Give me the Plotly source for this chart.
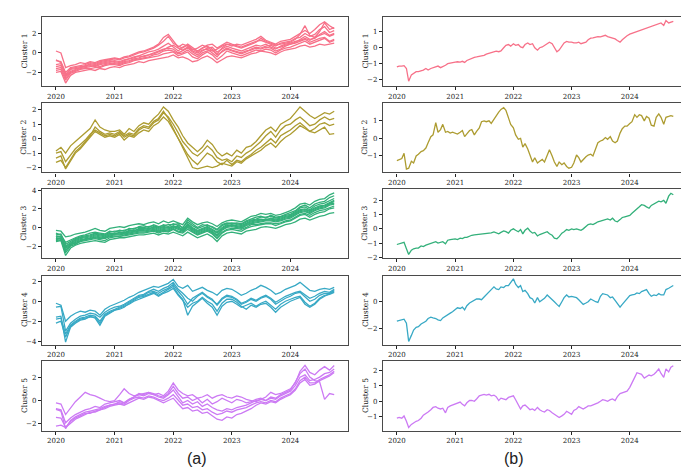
import plotly.graph_objects as go
import pandas as pd

# ---------------- data ----------------
cluster_names = ["Cluster 1", "Cluster 2", "Cluster 3", "Cluster 4", "Cluster 5"]
colors = ["#f77189", "#ad9c31", "#33b07a", "#38a9c5", "#cc7af4"]
year_ticks = ["2020", "2021", "2022", "2023", "2024"]

months = pd.date_range("2020-01-01", "2024-09-01", freq="MS")
dates_month = list(months.strftime("%Y-%m-%d")) + ["2024-09-30"]
dates_semi = []
for m in months:
    dates_semi.append(m.strftime("%Y-%m-%d"))
    dates_semi.append((m + pd.Timedelta(days=14)).strftime("%Y-%m-%d"))
dates_semi.append("2024-09-30")

# (a) individual members of each cluster, monthly readings
c1_members = [
    [0.2, 0.0, -1.5, -1.3, -1.2, -1.0, -1.1, -0.9, -1.0, -0.8, -0.7, -0.6,
     -0.5, -0.6, -0.4, -0.3, -0.1, 0.1, 0.2, 0.4, 0.6, 0.9, 1.6, 1.9,
     1.2, 0.6, 0.9, 0.7, 0.3, 0.5, 0.8, 0.6, 0.2, 0.4, 0.7, 0.9,
     0.8, 0.6, 0.5, 0.7, 0.9, 1.1, 1.5, 1.2, 1.0, 0.8, 0.9, 1.0,
     1.1, 1.4, 1.9, 2.8, 1.8, 1.6, 2.2, 3.1, 2.4, 2.6],
    [-2.0, -1.9, -3.1, -2.3, -2.0, -1.9, -1.8, -1.7, -1.8, -1.6, -1.7, -1.5,
     -1.4, -1.5, -1.3, -1.2, -1.1, -0.9, -1.0, -0.8, -0.7, -0.6, -0.5, -0.4,
     -0.2, -0.5, -0.4, -0.6, -0.9, -0.8, -0.5, -0.3, -0.6, -1.0, -0.7, -0.4,
     -0.3, -0.4, -0.5, -0.3, -0.1, 0.0, 0.2, 0.1, 0.0, -0.2, 0.1, 0.3,
     0.4, 0.5, 0.7, 0.8, 0.6, 0.7, 0.9, 0.8, 0.9, 1.0],
    [-1.6, -1.5, -2.6, -2.0, -1.8, -1.6, -1.5, -1.4, -1.3, -1.4, -1.2, -1.1,
     -1.0, -1.1, -0.9, -0.8, -0.6, -0.5, -0.3, -0.2, 0.0, 0.2, 0.4, 0.5,
     0.4, 0.0, 0.2, 0.5, 0.1, -0.2, 0.2, 0.5, 0.6, 0.1, 0.4, 0.7,
     0.5, 0.3, 0.2, 0.4, 0.6, 0.8, 0.7, 0.9, 0.6, 0.4, 0.7, 0.9,
     1.0, 1.2, 1.3, 1.5, 1.3, 1.6, 1.8, 2.0, 1.7, 1.9],
    [-1.4, -1.3, -2.3, -1.7, -1.6, -1.5, -1.3, -1.2, -1.3, -1.1, -1.0, -0.9,
     -0.8, -0.9, -0.7, -0.6, -0.5, -0.3, -0.4, -0.2, -0.1, 0.1, 0.3, 0.6,
     0.8, 0.5, 0.3, 0.6, 0.2, 0.0, 0.3, 0.4, 0.0, -0.4, 0.2, 0.5,
     0.3, 0.1, 0.0, 0.2, 0.3, 0.5, 0.4, 0.6, 0.5, 0.2, 0.4, 0.7,
     0.9, 1.0, 1.2, 1.4, 1.1, 1.3, 1.5, 1.6, 1.2, 1.4],
    [-0.8, -0.9, -2.0, -1.5, -1.4, -1.3, -1.2, -1.0, -1.1, -0.9, -0.8, -0.7,
     -0.6, -0.7, -0.5, -0.4, -0.2, 0.0, 0.1, 0.3, 0.5, 0.8, 1.2, 1.7,
     1.0, 0.7, 0.5, 0.9, 0.6, 0.2, 0.5, 0.8, 0.9, 0.5, 0.8, 1.1,
     0.9, 0.7, 0.6, 0.8, 1.0, 1.2, 1.3, 1.1, 0.9, 0.7, 1.0, 1.1,
     1.2, 1.5, 1.6, 2.0, 1.7, 1.9, 2.4, 2.7, 2.1, 2.3],
    [-1.8, -1.7, -2.8, -2.1, -1.9, -1.7, -1.6, -1.6, -1.5, -1.5, -1.3, -1.2,
     -1.2, -1.3, -1.1, -1.0, -0.8, -0.7, -0.6, -0.5, -0.4, -0.3, -0.1, 0.0,
     0.1, -0.3, -0.1, 0.1, -0.4, -0.6, -0.2, 0.1, -0.2, -0.7, -0.3, 0.2,
     0.0, -0.2, -0.3, -0.1, 0.1, 0.3, 0.2, 0.4, 0.3, 0.0, 0.3, 0.5,
     0.6, 0.8, 1.0, 1.2, 0.9, 1.1, 1.3, 1.5, 1.1, 1.3],
    [-0.7, -1.0, -2.2, -1.6, -1.5, -1.4, -1.4, -1.1, -1.2, -1.0, -0.9, -0.8,
     -0.9, -1.0, -0.8, -0.6, -0.4, -0.3, -0.1, 0.1, 0.2, 0.4, 0.7, 1.0,
     0.6, 0.2, 0.6, 0.8, 0.4, 0.1, 0.5, 0.7, 0.4, -0.1, 0.5, 0.9,
     0.7, 0.9, 0.8, 1.0, 1.2, 1.4, 1.7, 1.3, 1.1, 0.9, 1.2, 1.3,
     1.4, 1.7, 2.0, 2.3, 2.0, 2.4, 2.9, 3.2, 2.8, 2.5],
    [-1.2, -1.1, -2.4, -1.9, -1.7, -1.5, -1.4, -1.3, -1.4, -1.2, -1.1, -1.0,
     -1.1, -1.2, -1.0, -0.9, -0.7, -0.6, -0.5, -0.4, -0.2, -0.1, 0.2, 0.3,
     0.2, -0.1, 0.0, 0.3, -0.1, -0.4, 0.0, 0.2, 0.3, -0.2, 0.1, 0.4,
     0.2, 0.0, -0.1, 0.1, 0.4, 0.6, 0.5, 0.7, 0.8, 0.5, 0.6, 0.8,
     0.9, 1.1, 1.4, 1.7, 1.4, 1.5, 1.9, 2.2, 1.8, 2.0],
]

c2_members = [
    [-0.85, -0.6, -1.0, -0.5, -0.2, 0.1, 0.4, 0.7, 1.3, 0.8, 0.6, 0.5,
     0.5, 0.6, 0.3, 0.7, 0.5, 0.9, 1.1, 1.0, 1.4, 1.7, 2.2, 1.9,
     1.3, 0.8, 0.2, -0.3, -0.6, -0.9, -0.6, -0.1, -0.4, -0.9, -1.2, -1.0,
     -1.2, -0.8, -1.0, -0.6, -0.5, -0.2, 0.2, 0.6, 0.8, 0.5, 1.0, 1.2,
     1.4, 1.8, 2.2, 1.9, 1.6, 1.4, 1.6, 1.8, 1.7, 1.9],
    [-1.0, -0.9, -1.6, -1.1, -0.7, -0.4, -0.1, 0.3, 0.6, 0.4, 0.2, 0.3,
     0.2, 0.4, 0.1, 0.3, 0.2, 0.6, 0.8, 0.7, 1.1, 1.3, 1.8, 1.5,
     1.0, 0.4, -0.2, -0.6, -1.0, -1.2, -0.9, -0.5, -0.8, -1.3, -1.5, -1.4,
     -1.6, -1.2, -1.3, -1.0, -0.8, -0.5, -0.2, 0.2, 0.5, 0.1, 0.6, 0.9,
     1.0, 1.3, 1.5, 1.2, 0.9, 1.0, 1.3, 1.5, 1.3, 1.4],
    [-1.35, -1.2, -2.1, -1.5, -1.0, -0.7, -0.3, 0.1, 0.5, 0.3, 0.1, 0.2,
     0.1, 0.3, -0.1, 0.2, 0.1, 0.4, 0.6, 0.5, 0.9, 1.1, 1.5, 1.2,
     0.6, 0.1, -0.5, -1.1, -1.5, -1.8, -1.4, -1.0, -1.2, -1.6, -1.8, -1.5,
     -1.8, -1.5, -1.6, -1.3, -1.1, -0.8, -0.6, -0.3, 0.0, -0.3, 0.2, 0.4,
     0.6, 0.9, 1.1, 0.8, 0.5, 0.7, 1.0, 1.1, 0.9, 1.0],
    [-1.65, -1.5, -2.0, -1.4, -0.9, -0.6, -0.2, 0.2, 0.8, 0.5, 0.3, 0.4,
     0.3, 0.5, 0.2, 0.4, 0.3, 0.7, 0.9, 0.8, 1.2, 1.4, 1.9, 1.4,
     0.7, 0.0, -0.6, -1.3, -2.0, -2.1, -2.0, -1.9, -2.0, -1.9, -1.7, -1.8,
     -1.9, -1.6, -1.7, -1.4, -1.2, -1.0, -0.8, -0.5, -0.3, -0.6, -0.2, 0.1,
     0.3, 0.6, 0.9, 0.7, 0.5, 0.4, 0.6, 0.8, 0.3, 0.35],
]

c3_members = [
    [-0.3, -0.4, -1.0, -0.9, -0.7, -0.6, -0.5, -0.3, -0.1, -0.3, -0.4, -0.1,
     0.0, 0.1, 0.0, 0.2, 0.3, 0.4, 0.3, 0.5, 0.6, 0.4, 0.7, 0.5,
     0.7, 0.5, 0.3, 1.0, 0.6, 0.3, 0.5, 0.6, 0.4, 0.1, 0.5, 0.7,
     0.8, 0.7, 0.6, 0.9, 1.2, 1.3, 1.5, 1.4, 1.5, 1.3, 1.4, 1.6,
     1.8, 2.1, 2.5, 2.6, 2.4, 2.8, 3.0, 3.1, 3.5, 3.7],
    [-1.5, -1.4, -3.0, -2.2, -1.9, -1.7, -1.6, -1.5, -1.4, -1.5, -1.6, -1.3,
     -1.2, -1.1, -1.1, -1.0, -0.9, -0.8, -0.8, -0.7, -0.6, -0.8, -0.6, -0.7,
     -0.5, -0.7, -0.9, -0.5, -0.8, -1.1, -0.9, -0.7, -1.0, -1.5, -0.9, -0.6,
     -0.5, -0.6, -0.7, -0.4, -0.3, -0.2, 0.0, 0.1, 0.0, -0.1, 0.1, 0.3,
     0.4, 0.6, 0.9, 1.0, 0.8, 1.0, 1.2, 1.3, 1.5, 1.6],
    [-1.2, -1.1, -2.4, -1.9, -1.6, -1.4, -1.3, -1.2, -1.0, -1.1, -1.2, -0.9,
     -0.8, -0.8, -0.7, -0.6, -0.5, -0.4, -0.4, -0.3, -0.2, -0.4, -0.2, -0.3,
     0.0, -0.2, -0.4, 0.1, -0.3, -0.6, -0.4, -0.2, -0.5, -0.9, -0.3, 0.0,
     0.1, 0.0, -0.1, 0.2, 0.4, 0.5, 0.6, 0.7, 0.7, 0.6, 0.7, 0.9,
     1.0, 1.3, 1.6, 1.7, 1.5, 1.8, 2.0, 2.1, 2.4, 2.5],
    [-0.8, -0.7, -1.8, -1.5, -1.2, -1.0, -0.9, -0.8, -0.6, -0.7, -0.8, -0.5,
     -0.4, -0.4, -0.3, -0.2, -0.1, 0.0, 0.0, 0.1, 0.2, 0.0, 0.3, 0.1,
     0.4, 0.2, 0.0, 0.6, 0.2, -0.1, 0.1, 0.3, 0.0, -0.3, 0.2, 0.4,
     0.5, 0.4, 0.3, 0.6, 0.8, 0.9, 1.1, 1.1, 1.2, 1.0, 1.1, 1.3,
     1.4, 1.7, 2.1, 2.2, 1.9, 2.3, 2.5, 2.6, 2.9, 3.1],
    [-1.4, -1.3, -2.7, -2.0, -1.8, -1.5, -1.4, -1.3, -1.2, -1.3, -1.4, -1.1,
     -1.0, -0.9, -0.9, -0.8, -0.7, -0.6, -0.6, -0.5, -0.4, -0.6, -0.4, -0.5,
     -0.2, -0.5, -0.6, -0.2, -0.5, -0.8, -0.6, -0.4, -0.7, -1.2, -0.6, -0.3,
     -0.2, -0.3, -0.4, -0.1, 0.1, 0.2, 0.3, 0.4, 0.4, 0.2, 0.4, 0.6,
     0.7, 1.0, 1.3, 1.4, 1.1, 1.4, 1.6, 1.7, 2.0, 2.1],
    [-1.0, -0.9, -2.1, -1.7, -1.4, -1.2, -1.1, -1.0, -0.8, -0.9, -1.0, -0.7,
     -0.6, -0.6, -0.5, -0.4, -0.3, -0.2, -0.2, -0.1, 0.0, -0.2, 0.0, -0.1,
     0.2, 0.0, -0.2, 0.3, -0.1, -0.4, -0.2, 0.0, -0.3, -0.6, -0.1, 0.2,
     0.3, 0.2, 0.1, 0.4, 0.6, 0.7, 0.8, 0.9, 0.9, 0.8, 0.9, 1.1,
     1.2, 1.5, 1.8, 1.9, 1.7, 2.0, 2.2, 2.3, 2.6, 2.8],
    [-0.6, -0.8, -1.6, -1.3, -1.1, -0.9, -0.8, -0.6, -0.5, -0.6, -0.7, -0.4,
     -0.5, -0.3, -0.4, -0.1, -0.2, 0.1, 0.2, 0.0, 0.3, 0.1, 0.2, 0.3,
     0.3, 0.4, -0.1, 0.8, 0.4, 0.0, 0.3, 0.2, 0.1, -0.2, 0.3, 0.5,
     0.4, 0.5, 0.4, 0.7, 0.9, 1.1, 1.2, 1.0, 1.3, 1.1, 1.2, 1.4,
     1.6, 1.8, 2.2, 2.4, 2.1, 2.5, 2.7, 2.8, 3.2, 3.4],
    [-1.3, -1.2, -2.5, -1.8, -1.7, -1.5, -1.2, -1.2, -1.1, -1.2, -1.1, -1.0,
     -0.9, -1.0, -0.8, -0.7, -0.6, -0.5, -0.5, -0.4, -0.3, -0.5, -0.3, -0.4,
     -0.1, -0.4, -0.5, 0.0, -0.4, -0.7, -0.5, -0.3, -0.6, -1.1, -0.5, -0.2,
     -0.1, -0.1, -0.2, 0.0, 0.3, 0.3, 0.4, 0.5, 0.5, 0.4, 0.5, 0.7,
     0.8, 1.1, 1.4, 1.5, 1.3, 1.6, 1.8, 1.9, 2.1, 2.3],
    [-0.9, -1.0, -2.0, -1.6, -1.3, -1.1, -1.0, -0.9, -0.7, -0.8, -0.9, -0.6,
     -0.7, -0.5, -0.6, -0.3, -0.4, -0.1, -0.1, -0.2, 0.1, -0.1, 0.1, 0.0,
     0.1, 0.1, -0.3, 0.4, 0.0, -0.3, -0.1, 0.1, -0.2, -0.5, 0.0, 0.3,
     0.2, 0.3, 0.2, 0.5, 0.7, 0.8, 0.9, 0.8, 1.0, 0.9, 1.0, 1.2,
     1.3, 1.6, 1.9, 2.0, 1.8, 2.1, 2.3, 2.4, 2.7, 2.9],
    [-1.1, -1.2, -2.2, -1.8, -1.5, -1.3, -1.3, -1.1, -0.9, -1.0, -1.1, -0.8,
     -0.7, -0.7, -0.6, -0.5, -0.4, -0.3, -0.3, -0.2, -0.1, -0.3, -0.1, -0.2,
     0.1, -0.1, -0.3, 0.2, -0.2, -0.5, -0.3, -0.1, -0.4, -0.8, -0.2, 0.1,
     0.2, 0.1, 0.0, 0.3, 0.5, 0.6, 0.7, 0.8, 0.8, 0.7, 0.8, 1.0,
     1.1, 1.4, 1.7, 1.8, 1.6, 1.9, 2.1, 2.2, 2.5, 2.6],
]

c4_members = [
    [-0.2, -0.4, -2.0, -1.5, -1.2, -1.0, -1.1, -0.9, -1.0, -1.4, -0.8, -0.5,
     -0.3, -0.1, 0.1, 0.4, 0.6, 0.9, 1.1, 1.3, 1.5, 1.4, 1.6, 1.8,
     2.2, 1.5, 1.3, 1.6, 1.0, 1.2, 1.4, 1.1, 0.9, 0.6, 1.1, 1.3,
     1.2, 0.9, 0.6, 0.8, 1.1, 1.3, 1.6, 1.4, 1.1, 0.7, 0.9, 1.2,
     1.4, 1.6, 1.9, 1.5, 1.1, 1.0, 1.2, 1.3, 1.2, 1.4],
    [-0.6, -0.5, -3.0, -2.2, -1.8, -1.5, -1.4, -1.2, -1.3, -1.6, -1.1, -0.8,
     -0.6, -0.5, -0.3, 0.0, 0.3, 0.6, 0.7, 1.0, 1.2, 1.0, 1.3, 1.5,
     1.9, 1.2, 0.8, 0.3, 0.0, 0.5, 0.8, 0.4, 0.1, -0.3, 0.3, 0.6,
     0.5, 0.2, -0.2, 0.0, 0.3, 0.1, 0.4, 0.6, 0.3, -0.1, 0.2, 0.5,
     0.7, 0.9, 1.0, 0.6, 0.3, 0.5, 0.8, 1.0, 0.9, 1.2],
    [-1.6, -1.5, -4.1, -2.6, -2.2, -1.9, -1.8, -1.5, -1.7, -2.4, -1.5, -1.2,
     -0.9, -0.8, -0.6, -0.2, 0.1, 0.4, 0.5, 0.7, 0.9, 0.6, 0.9, 1.2,
     1.5, 0.7, 0.2, -1.4, -0.5, -0.1, 0.3, -0.2, -0.6, -1.4, -0.5, -0.1,
     0.0, -0.3, -0.6, -0.4, -0.2, -0.5, -0.2, 0.0, -0.4, -0.8, -0.3, 0.0,
     0.2, 0.4, 0.5, -0.1, -0.5, -0.2, 0.3, 0.6, 0.7, 0.9],
    [-1.8, -1.7, -3.3, -2.4, -2.0, -1.7, -1.6, -1.4, -1.5, -2.0, -1.3, -1.0,
     -0.8, -0.6, -0.4, -0.1, 0.2, 0.5, 0.6, 0.9, 1.0, 0.8, 1.1, 1.3,
     1.7, 1.0, 0.5, -0.3, 0.3, 0.6, 0.9, 0.5, 0.2, -0.4, 0.2, 0.5,
     0.4, 0.1, -0.3, -0.1, 0.2, 0.0, 0.3, 0.5, 0.2, -0.3, 0.0, 0.3,
     0.5, 0.8, 0.9, 0.4, 0.0, 0.2, 0.6, 0.8, 0.8, 1.1],
    [-2.2, -2.0, -3.6, -2.5, -2.1, -1.8, -1.7, -1.6, -1.6, -2.2, -1.4, -1.1,
     -0.9, -0.7, -0.5, -0.3, 0.0, 0.2, 0.4, 0.6, 0.8, 0.5, 0.8, 1.0,
     1.3, 0.6, 0.1, -0.6, -0.2, 0.0, 0.4, 0.0, -0.3, -1.0, -0.2, 0.2,
     0.2, -0.1, -0.5, -0.8, -0.4, -0.6, -0.3, -0.2, -0.6, -1.1, -0.6, -0.3,
     0.0, 0.2, 0.4, -0.3, -0.6, -0.3, 0.2, 0.5, 0.8, 1.0],
]

c5_members = [
    [-0.2, -0.3, -1.2, -0.6, -0.1, 0.3, 0.7, 0.5, 0.4, 0.2, 0.0, -0.1,
     0.0, 0.5, 1.0, 0.6, 0.4, 0.5, 0.6, 0.7, 0.5, 0.6, 0.4, 0.8,
     1.5, 0.9, 0.6, 0.4, 0.5, 0.2, 0.3, 0.5, 0.2, 0.4, 0.5, 0.3,
     0.2, 0.4, 0.3, 0.1, 0.0, -0.1, 0.1, 0.3, 0.7, 0.5, 0.6, 0.8,
     1.0, 1.5, 2.5, 3.0, 2.4, 2.2, 2.6, 2.9, 2.6, 3.0],
    [-0.7, -0.8, -1.9, -1.5, -1.2, -1.0, -0.8, -0.7, -0.5, -0.6, -0.3, -0.2,
     -0.1, 0.0, -0.2, 0.1, 0.3, 0.5, 0.4, 0.6, 0.5, 0.3, 0.2, 0.5,
     0.9, 0.3, -0.2, 0.0, -0.3, -0.1, -0.5, -0.3, -0.6, -0.8, -0.9, -0.7,
     -0.8, -0.6, -0.5, -0.4, -0.2, 0.0, 0.1, 0.0, 0.2, 0.1, 0.4, 0.6,
     0.8, 1.3, 2.0, 2.2, 1.7, 1.8, 2.0, 2.3, 2.4, 2.7],
    [-0.75, -0.9, -2.4, -1.7, -1.4, -1.2, -1.0, -0.9, -0.8, -0.7, -0.5, -0.4,
     -0.3, -0.2, -0.3, 0.0, 0.2, 0.3, 0.2, 0.4, 0.3, 0.1, 0.0, 0.2,
     0.5, 0.0, -0.4, -0.3, -0.6, -0.5, -0.8, -0.7, -1.0, -1.2, -1.1, -0.9,
     -1.0, -0.8, -0.7, -0.6, -0.4, -0.2, -0.1, -0.2, 0.0, -0.1, 0.2, 0.4,
     0.6, 1.0, 1.7, 2.0, 1.5, 1.5, 1.8, 2.0, 2.2, 2.5],
    [-1.45, -1.5, -2.3, -1.8, -1.5, -1.3, -1.1, -1.1, -0.9, -0.8, -0.6, -0.4,
     -0.3, -0.1, -0.2, 0.1, 0.3, 0.6, 0.5, 0.7, 0.6, 0.4, 0.3, 0.6,
     1.2, 0.6, 0.2, 0.3, 0.0, 0.2, -0.2, 0.1, -0.3, -0.1, 0.2, 0.0,
     -0.2, 0.1, 0.0, -0.2, -0.1, 0.1, 0.2, 0.0, 0.3, 0.2, 0.5, 0.7,
     0.9, 1.6, 2.3, 2.7, 2.0, 1.7, 1.6, 0.1, 0.6, 0.5],
    [-2.2, -2.1, -2.3, -1.9, -1.6, -1.4, -1.2, -1.0, -1.0, -0.8, -0.7, -0.5,
     -0.4, -0.3, -0.4, -0.2, 0.0, 0.2, 0.1, 0.3, 0.2, 0.0, -0.2, 0.0,
     0.2, -0.3, -0.7, -0.6, -0.9, -0.8, -1.1, -1.0, -1.3, -1.6, -1.7, -1.4,
     -1.5, -1.2, -1.1, -0.9, -0.7, -0.4, -0.2, -0.3, -0.1, -0.2, 0.1, 0.3,
     0.5, 0.9, 1.5, 1.8, 1.3, 1.4, 1.7, 1.9, 2.1, 2.4],
]

# (b) cluster centroids, semi-monthly readings
c1_centroid = [
    -1.2, -1.15, -1.15, -1.12, -1.3, -2.1, -1.7, -1.6, -1.5, -1.5, -1.45, -1.4,
    -1.3, -1.4, -1.3, -1.25, -1.2, -1.15, -1.25, -1.2, -1.1, -1.0, -0.95, -0.92,
    -0.9, -0.88, -0.9, -0.85, -0.92, -0.8, -0.72, -0.65, -0.6, -0.58, -0.55, -0.5,
    -0.48, -0.4, -0.35, -0.3, -0.25, -0.22, -0.25, -0.2, 0.0, 0.15, 0.2, 0.1,
    0.25, 0.15, 0.2, 0.05, 0.0, 0.2, 0.3, 0.2, 0.25, 0.0, -0.15, 0.0,
    0.05, 0.15, 0.25, 0.35, 0.25, 0.0, -0.25, -0.15, 0.1, 0.3, 0.4, 0.35,
    0.35, 0.3, 0.3, 0.35, 0.25, 0.3, 0.35, 0.5, 0.6, 0.62, 0.65, 0.7,
    0.68, 0.72, 0.78, 0.7, 0.65, 0.62, 0.55, 0.45, 0.35, 0.5, 0.65, 0.75,
    0.85, 0.9, 0.95, 1.0, 1.05, 1.1, 1.15, 1.2, 1.25, 1.3, 1.4, 1.45,
    1.5, 1.55, 1.4, 1.7, 1.55, 1.6, 1.65,
]
c2_centroid = [
    -1.27, -1.2, -1.15, -0.85, -1.75, -1.7, -1.3, -1.4, -1.0, -0.9, -0.75, -0.7,
    -0.55, -0.25, 0.1, 0.2, 0.9, 0.35, 0.5, 0.8, 0.35, 0.4, 0.3, 0.35,
    0.3, 0.25, 0.35, 0.45, 0.1, 0.25, 0.45, 0.5, 0.2, 0.4, 0.6, 0.95,
    1.0, 0.95, 1.0, 0.85, 1.1, 1.3, 1.5, 1.65, 1.75, 1.6, 1.2, 0.8,
    0.6, 0.2, -0.05, 0.0, -0.5, -0.3, -0.6, -1.0, -1.35, -1.1, -1.4, -1.3,
    -1.2, -1.35, -0.9, -0.65, -1.0, -1.35, -1.6, -1.35, -1.5, -1.4, -1.6, -1.7,
    -1.65, -1.4, -0.95, -1.1, -1.35, -1.2, -1.05, -0.95, -0.9, -1.0, -0.6, -0.25,
    -0.15, -0.1, 0.05, -0.05, 0.1, -0.15, -0.25, -0.15, 0.3, 0.55, 0.7, 0.7,
    0.85, 0.95, 1.35, 1.2, 1.35, 1.3, 1.0, 1.25, 1.15, 0.75, 0.7, 1.2,
    1.4, 1.2, 0.8, 1.2, 1.25, 1.3, 1.25,
]
c3_centroid = [
    -1.1, -1.05, -1.0, -0.95, -1.4, -1.8, -1.5, -1.4, -1.35, -1.35, -1.2, -1.25,
    -1.15, -1.1, -1.05, -1.0, -0.9, -1.0, -0.95, -0.9, -1.05, -0.8, -0.75, -0.72,
    -0.7, -0.75, -0.65, -0.68, -0.6, -0.6, -0.5, -0.45, -0.42, -0.4, -0.38, -0.4,
    -0.35, -0.35, -0.3, -0.28, -0.22, -0.3, -0.35, -0.25, -0.15, -0.2, -0.3, -0.1,
    0.0, -0.1, -0.2, -0.05, -0.35, -0.1, 0.05, -0.15, -0.3, -0.25, -0.5, -0.4,
    -0.35, -0.3, -0.2, -0.35, -0.45, -0.65, -0.7, -0.55, -0.3, -0.2, -0.05, -0.1,
    0.0, -0.05, 0.0, -0.05, -0.1, 0.0, 0.15, 0.3, 0.35, 0.3, 0.4, 0.5,
    0.55, 0.6, 0.65, 0.7, 0.62, 0.75, 0.55, 0.5, 0.65, 0.8, 0.85, 0.9,
    0.95, 1.1, 1.25, 1.4, 1.55, 1.7, 1.65, 1.55, 1.45, 1.65, 1.75, 1.85,
    1.95, 1.9, 2.0, 1.8, 2.3, 2.5, 2.4,
]
c4_centroid = [
    -1.45, -1.4, -1.35, -1.3, -1.6, -2.95, -2.5, -2.1, -1.9, -1.85, -1.65, -1.55,
    -1.45, -1.25, -1.15, -1.2, -1.25, -1.35, -1.4, -1.2, -1.05, -0.95, -0.85, -0.75,
    -0.55, -0.45, -0.5, -0.4, -0.6, -0.3, -0.1, 0.0, 0.1, 0.2, 0.2, 0.15,
    0.35, 0.5, 0.7, 0.9, 1.1, 0.95, 0.9, 1.1, 1.05, 1.2, 1.2, 1.45,
    1.7, 1.3, 1.05, 1.2, 0.75, 0.85, 0.6, 0.3, 0.2, -0.1, 0.3, 0.0,
    0.1, 0.25, 0.5, 0.35, 0.2, 0.0, -0.2, -0.35, 0.0, 0.3, 0.5, 0.35,
    0.4, 0.35, 0.3, 0.15, 0.0, -0.2, -0.1, 0.0, 0.2, 0.1, 0.0, -0.05,
    0.4, 0.6, 0.55, 0.5, 0.3, 0.35, 0.1, -0.15, -0.4, -0.2, 0.0, 0.2,
    0.45, 0.5, 0.55, 0.65, 0.6, 0.75, 0.85, 0.9, 0.6, 0.4, 0.5, 0.45,
    0.6, 0.5, 0.5, 0.9, 1.0, 1.1, 1.2,
]
c5_centroid = [
    -1.1, -1.05, -1.1, -0.95, -1.3, -1.7, -1.5, -1.4, -1.3, -1.25, -1.1, -0.9,
    -0.8, -0.7, -0.55, -0.4, -0.35, -0.45, -0.5, -0.45, -0.75, -0.4, -0.3, -0.25,
    -0.15, -0.1, -0.05, -0.2, -0.3, -0.1, 0.05, 0.05, 0.0, 0.15, 0.35, 0.4,
    0.45, 0.4, 0.45, 0.35, 0.4, 0.3, 0.05, 0.2, 0.15, 0.1, 0.25, 0.3,
    0.35, 0.1, -0.25, -0.5, -0.3, -0.25, -0.4, -0.55, -0.5, -0.6, -0.4, -0.55,
    -0.65, -0.7, -0.55, -0.6, -0.75, -0.85, -1.0, -1.05, -0.95, -0.85, -0.65, -0.75,
    -0.85, -0.6, -0.5, -0.35, -0.45, -0.5, -0.4, -0.3, -0.3, -0.25, -0.2, -0.1,
    0.0, 0.1, 0.05, 0.0, 0.1, 0.15, 0.05, 0.3, 0.5, 0.55, 0.6, 0.65,
    0.9, 1.25, 1.55, 1.85, 1.8, 1.75, 1.5, 1.6, 1.7, 1.65, 1.75, 1.9,
    2.1, 1.8, 1.55, 2.1, 1.9, 2.2, 2.3,
]

members = [c1_members, c2_members, c3_members, c4_members, c5_members]
centroids = [c1_centroid, c2_centroid, c3_centroid, c4_centroid, c5_centroid]

left_yticks = [[-2, 0, 2], [-2, -1, 0, 1, 2], [-2, 0, 2, 4], [-4, -2, 0, 2], [-2, 0, 2]]
right_yticks = [[-2, -1, 0, 1], [-1, 0, 1], [-2, -1, 0, 1, 2], [-2, 0], [-1, 0, 1, 2]]

# ---------------- layout helpers ----------------
W, H = 689, 469
left_x = [34 / W, 340 / W]
right_x = [375 / W, 679 / W]
row_px = [(6, 76), (93.5, 163.5), (180.5, 250.5), (268, 338), (355, 425)]
left_yrange = [[-3.4, 3.7], [-2.34, 2.45], [-3.3, 4.1], [-4.36, 2.58], [-2.57, 3.34]]
right_yrange = [[-2.4, 1.93], [-1.94, 2.0], [-2.07, 2.79], [-3.19, 1.94], [-1.9, 2.58]]
xrange_dates = ["2019-10-06", "2024-12-25"]
tick_dates = [f"{y}-01-01" for y in year_ticks]

fig = go.Figure()
layout = dict(
    width=W, height=H, margin=dict(l=0, r=0, t=0, b=0),
    paper_bgcolor="white", plot_bgcolor="white", showlegend=False,
    font=dict(family="DejaVu Serif", size=7, color="#222222"),
)
annotations = []
frame = "#4a4a4a"
tickfont = dict(family="DejaVu Serif", size=7, color="#222222")

for r in range(5):
    top, bot = row_px[r]
    ydom = [1 - bot / H, 1 - top / H]
    for c in range(2):
        idx = 2 * r + c + 1
        xa = "xaxis" if idx == 1 else f"xaxis{idx}"
        ya = "yaxis" if idx == 1 else f"yaxis{idx}"
        xref = "x" if idx == 1 else f"x{idx}"
        yref = "y" if idx == 1 else f"y{idx}"
        yt = left_yticks[r] if c == 0 else right_yticks[r]
        layout[xa] = dict(
            domain=left_x if c == 0 else right_x, anchor=yref, type="date",
            range=xrange_dates, tickvals=tick_dates, ticktext=year_ticks,
            showgrid=False, zeroline=False, showline=True, mirror=True,
            linecolor=frame, linewidth=1.4, ticks="outside", ticklen=3,
            tickwidth=0.8, tickcolor="#222222", tickfont=tickfont,
        )
        layout[ya] = dict(
            domain=ydom, anchor=xref,
            range=left_yrange[r] if c == 0 else right_yrange[r],
            tickvals=yt,
            ticktext=[("\u2212" + str(-v)) if v < 0 else str(v) for v in yt],
            showgrid=False, zeroline=False, showline=True, mirror=True,
            linecolor=frame, linewidth=1.4, ticks="outside", ticklen=3,
            tickwidth=0.8, tickcolor="#222222", tickfont=tickfont,
        )
        if c == 0:
            for series in members[r]:
                fig.add_trace(go.Scatter(
                    x=dates_month, y=series, mode="lines", xaxis=xref, yaxis=yref,
                    line=dict(color=colors[r], width=1.3), hoverinfo="skip"))
        else:
            fig.add_trace(go.Scatter(
                x=dates_semi, y=centroids[r], mode="lines", xaxis=xref, yaxis=yref,
                line=dict(color=colors[r], width=1.3), hoverinfo="skip"))
        annotations.append(dict(
            x=(16 if c == 0 else 357) / W, y=1 - (top + bot) / 2 / H,
            xref="paper", yref="paper", text=cluster_names[r], showarrow=False,
            textangle=-90, font=dict(family="DejaVu Serif", size=7.5, color="#222222"),
            xanchor="center", yanchor="middle"))

annotations.append(dict(x=178 / W, y=1 - 453 / H, xref="paper", yref="paper",
                        text="(a)", showarrow=False, yanchor="middle", borderpad=0,
                        font=dict(family="Liberation Sans", size=16, color="#222222")))
annotations.append(dict(x=517 / W, y=1 - 453 / H, xref="paper", yref="paper",
                        text="(b)", showarrow=False, yanchor="middle", borderpad=0,
                        font=dict(family="Liberation Sans", size=16, color="#222222")))
layout["annotations"] = annotations
fig.update_layout(**layout)
fig.write_html("out.html")
